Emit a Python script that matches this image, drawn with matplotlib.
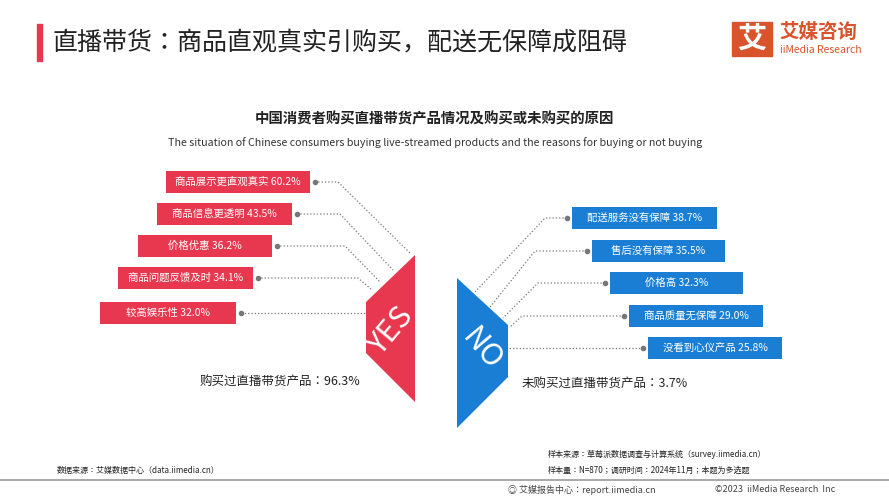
import matplotlib.pyplot as plt
from matplotlib.patches import Polygon, Rectangle

plt.rcParams["font.family"] = ["Noto Sans CJK JP", "Noto Sans SC", "DejaVu Sans"]

RED = "#e8384f"
BLUE = "#1a7fd4"
LOGO = "#d9532c"

yes_labels = ["商品展示更直观真实", "商品信息更透明", "价格优惠", "商品问题反馈及时", "较高娱乐性"]
yes_values = [60.2, 43.5, 36.2, 34.1, 32.0]
no_labels = ["配送服务没有保障", "售后没有保障", "价格高", "商品质量无保障", "没看到心仪产品"]
no_values = [38.7, 35.5, 32.3, 29.0, 25.8]
bought_share = 96.3
not_bought_share = 3.7

fig = plt.figure(figsize=(8.89, 5.0), dpi=100)
ax = fig.add_axes([0, 0, 1, 1])
ax.set_xlim(0, 889)
ax.set_ylim(500, 0)
ax.axis("off")

# header
ax.add_patch(Rectangle((37, 24), 5, 37, color=RED))
ax.text(52, 42, "直播带货：商品直观真实引购买，配送无保障成阻碍", fontsize=18, va="center", color="#222222")
ax.add_patch(Rectangle((732, 22), 40, 34, color=LOGO))
ax.text(752, 39, "艾", fontsize=21, color="white", ha="center", va="center", fontweight="bold")
ax.text(779, 32, "艾媒咨询", fontsize=14, color=LOGO, va="center", fontweight="bold")
ax.text(780, 50, "iiMedia Research", fontsize=7.5, color=LOGO, va="center")

ax.text(434, 119, "中国消费者购买直播带货产品情况及购买或未购买的原因", fontsize=10.4, ha="center", va="center", fontweight="bold", color="#222222")
ax.text(435, 143, "The situation of Chinese consumers buying live-streamed products and the reasons for buying or not buying",
        fontsize=7.7, ha="center", va="center", color="#333333")

# YES side
ax.add_patch(Polygon([(415, 255), (366, 302), (366, 353), (415, 402)], color=RED, lw=0))
ax.text(391, 330, "YES", fontsize=22, color="white", ha="center", va="center", rotation=50)
yes_y = [182, 214, 246, 278, 313]
yes_left = [166, 157, 138, 118, 100]
yes_right = [310, 292, 272, 253, 236]
yes_bend = [(338, 410, 253), (340, 393, 270), (345, 380, 282), (358, 372, 290), (366, 366, 313)]
for lab, val, y, x0, x1, (bx, ex, ey) in zip(yes_labels, yes_values, yes_y, yes_left, yes_right, yes_bend):
    ax.add_patch(Rectangle((x0, y - 11), x1 - x0, 22, color=RED, lw=0))
    ax.text((x0 + x1) / 2, y, f"{lab} {val:.1f}%", fontsize=7.5, color="white", ha="center", va="center")
    ax.plot([x1 + 5, bx, ex], [y, y, ey], ls=":", color="#777777", lw=0.9)
    ax.plot(x1 + 5, y, "o", color="#777777", ms=3)
ax.text(280, 381, f"购买过直播带货产品：{bought_share}%", fontsize=9, ha="center", va="center", color="#222222")

# NO side
ax.add_patch(Polygon([(457, 278), (508, 325), (508, 377), (457, 428)], color=BLUE, lw=0))
ax.text(482, 350, "NO", fontsize=22, color="white", ha="center", va="center", rotation=-50)
no_y = [218, 251, 283, 316, 348]
no_left = [572, 592, 610, 629, 648]
no_right = [717, 725, 743, 763, 782]
no_bend = [(545, 475, 292), (535, 490, 307), (538, 503, 318), (522, 510, 327), (508, 508, 348)]
for lab, val, y, x0, x1, (bx, ex, ey) in zip(no_labels, no_values, no_y, no_left, no_right, no_bend):
    ax.add_patch(Rectangle((x0, y - 11), x1 - x0, 22, color=BLUE, lw=0))
    ax.text((x0 + x1) / 2, y, f"{lab} {val:.1f}%", fontsize=7.5, color="white", ha="center", va="center")
    ax.plot([x0 - 5, bx, ex], [y, y, ey], ls=":", color="#777777", lw=0.9)
    ax.plot(x0 - 5, y, "o", color="#777777", ms=3)
ax.text(522, 383, f"未购买过直播带货产品：{not_bought_share}%", fontsize=9, ha="left", va="center", color="#222222")

# footer
ax.text(548, 454, "样本来源：草莓派数据调查与计算系统（survey.iimedia.cn）", fontsize=5.8, va="center", color="#222222")
ax.text(548, 470, "样本量：N=870；调研时间：2024年11月；本题为多选题", fontsize=5.8, va="center", color="#222222")
ax.text(57, 470, "数据来源：艾媒数据中心（data.iimedia.cn）", fontsize=5.8, va="center", color="#222222")
ax.plot([0, 889], [480, 480], color="#999999", lw=1.2)
ax.text(508, 490, "◎ 艾媒报告中心：report.iimedia.cn", fontsize=6.5, va="center", color="#444444")
ax.text(715, 490, "©2023  iiMedia Research  Inc", fontsize=6.5, va="center", color="#444444")

fig.savefig("out.png", dpi=100)
